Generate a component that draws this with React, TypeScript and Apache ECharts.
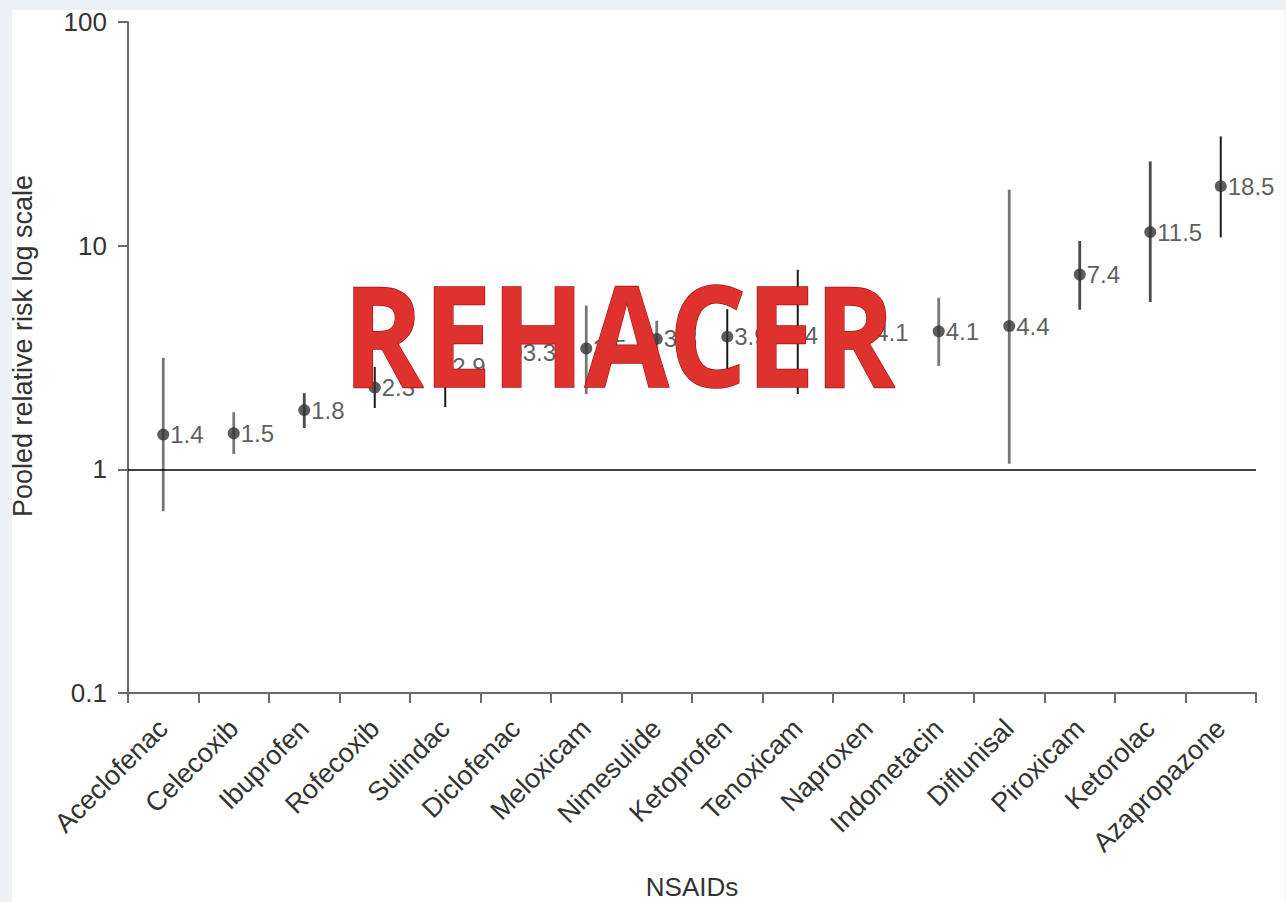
import React, { useEffect, useRef } from "react";
import * as echarts from "echarts";

const categories = [
  "Aceclofenac", "Celecoxib", "Ibuprofen", "Rofecoxib", "Sulindac", "Diclofenac",
  "Meloxicam", "Nimesulide", "Ketoprofen", "Tenoxicam", "Naproxen", "Indometacin",
  "Diflunisal", "Piroxicam", "Ketorolac", "Azapropazone",
];
const pooledRR = [1.43, 1.45, 1.84, 2.32, 2.89, 3.34, 3.47, 3.83, 3.92, 3.97, 4.1, 4.14, 4.37, 7.43, 11.5, 18.45];
const pointLabels = ["1.4", "1.5", "1.8", "2.3", "2.9", "3.3", "3.5", "3.8", "3.9", "4", "4.1", "4.1", "4.4", "7.4", "11.5", "18.5"];
const ciLower = [0.65, 1.17, 1.53, 1.88, 1.9, 2.8, 2.17, 3.1, 2.72, 2.17, 3.2, 2.9, 1.06, 5.17, 5.6, 10.9];
const ciUpper = [3.15, 1.8, 2.19, 2.87, 4.4, 4.0, 5.4, 4.62, 5.2, 7.8, 5.2, 5.85, 17.8, 10.5, 23.8, 30.8];
const yTickLabels = ["0.1", "1", "10", "100"];

// style: tone of each confidence-interval bar
const darkBars = new Set(["Rofecoxib", "Sulindac", "Ketoprofen", "Tenoxicam", "Naproxen", "Azapropazone"]);
const midBars = new Set(["Piroxicam", "Ketorolac", "Ibuprofen"]);

const FONT = '"Liberation Sans", Arial, Helvetica, sans-serif';

export default function App() {
  const ref = useRef<HTMLDivElement>(null);

  useEffect(() => {
    if (!ref.current) return;
    const chart = echarts.init(ref.current, undefined, { renderer: "svg" });

    const option: any = {
      animation: false,
      backgroundColor: "transparent",
      grid: {
        left: 128,
        right: 30,
        top: 22,
        bottom: 209,
        containLabel: false,
        outerBoundsMode: "none",
      },
      xAxis: {
        type: "category",
        data: categories,
        boundaryGap: true,
        name: "NSAIDs",
        nameLocation: "middle",
        nameGap: 181,
        nameTextStyle: { fontFamily: FONT, fontSize: 26, color: "#333" },
        axisLine: { show: true, lineStyle: { color: "#6b6b6b", width: 2 } },
        axisTick: { show: true, length: 10, lineStyle: { color: "#6b6b6b", width: 2 } },
        axisLabel: {
          interval: 0,
          rotate: 45,
          margin: 31,
          fontFamily: FONT,
          fontSize: 27,
          color: "#333",
        },
        splitLine: { show: false },
      },
      yAxis: {
        type: "log",
        logBase: 10,
        min: 0.1,
        max: 100,
        axisLine: { show: true, lineStyle: { color: "#6b6b6b", width: 2 } },
        axisTick: { show: true, length: 10, lineStyle: { color: "#6b6b6b", width: 2 } },
        axisLabel: {
          margin: 21,
          fontFamily: FONT,
          fontSize: 26,
          color: "#333",
          formatter: (v: number) => {
            const k = Math.round(Math.log10(v)) + 1;
            return yTickLabels[k] ?? String(v);
          },
        },
        splitLine: { show: false },
      },
      graphic: [
        {
          type: "text",
          x: 23,
          y: 346,
          rotation: Math.PI / 2,
          z: 10,
          style: {
            text: "Pooled relative risk log scale",
            fontFamily: FONT,
            fontSize: 27,
            fill: "#333",
            align: "center",
            verticalAlign: "middle",
          },
        },
        {
          type: "text",
          x: 619,
          y: 333,
          scaleX: 0.87,
          z: 100,
          style: {
            text: "REHACER",
            fontFamily: '"Open Sans", "Noto Sans", sans-serif',
            fontWeight: "bold",
            fontSize: 140,
            align: "center",
            verticalAlign: "middle",
            fill: "#e0322d",
            stroke: "#a3121a",
            lineWidth: 1.5,
            shadowColor: "rgba(0,0,0,0.35)",
            shadowBlur: 4,
            shadowOffsetX: 2,
            shadowOffsetY: 3,
          },
        },
      ],
      series: [
        {
          type: "custom",
          z: 2,
          silent: true,
          encode: { x: 0, y: [1, 2] },
          data: categories.map((c, i) => [i, ciLower[i], ciUpper[i]]),
          renderItem: (params: any, api: any) => {
            const i = api.value(0);
            const lo = api.coord([i, api.value(1)]);
            const hi = api.coord([i, api.value(2)]);
            const name = categories[i];
            const stroke = darkBars.has(name) ? "#1a1a1a" : midBars.has(name) ? "#4a4a4a" : "#777777";
            const lw = darkBars.has(name) ? 2 : 2.8;
            return {
              type: "line",
              shape: { x1: lo[0], y1: lo[1], x2: hi[0], y2: hi[1] },
              style: { stroke, lineWidth: lw },
            };
          },
        },
        {
          type: "scatter",
          z: 5,
          symbol: "circle",
          symbolSize: 12,
          itemStyle: { color: "#333333" },
          data: pooledRR.map((v, i) => [i, v]),
          label: {
            show: true,
            position: "right",
            distance: 1,
            fontFamily: FONT,
            fontSize: 24,
            color: "#333",
            formatter: (p: any) => pointLabels[p.dataIndex],
          },
          markLine: {
            silent: true,
            symbol: ["none", "none"],
            label: { show: false },
            lineStyle: { color: "#000", width: 1.5, type: "solid" },
            data: [{ yAxis: 1 }],
          },
        },
      ],
    };

    chart.setOption(option);
    return () => chart.dispose();
  }, []);

  return (
    <div
      style={{
        position: "fixed",
        left: 0,
        top: 0,
        width: 1286,
        height: 902,
        background: "#edf1f5",
        overflow: "hidden",
      }}
    >
      <div
        style={{
          position: "absolute",
          left: 12,
          top: 10,
          width: 1273,
          height: 892,
          background: "#ffffff",
        }}
      />
      <div ref={ref} style={{ position: "absolute", left: 0, top: 0, width: 1286, height: 902 }} />
    </div>
  );
}
